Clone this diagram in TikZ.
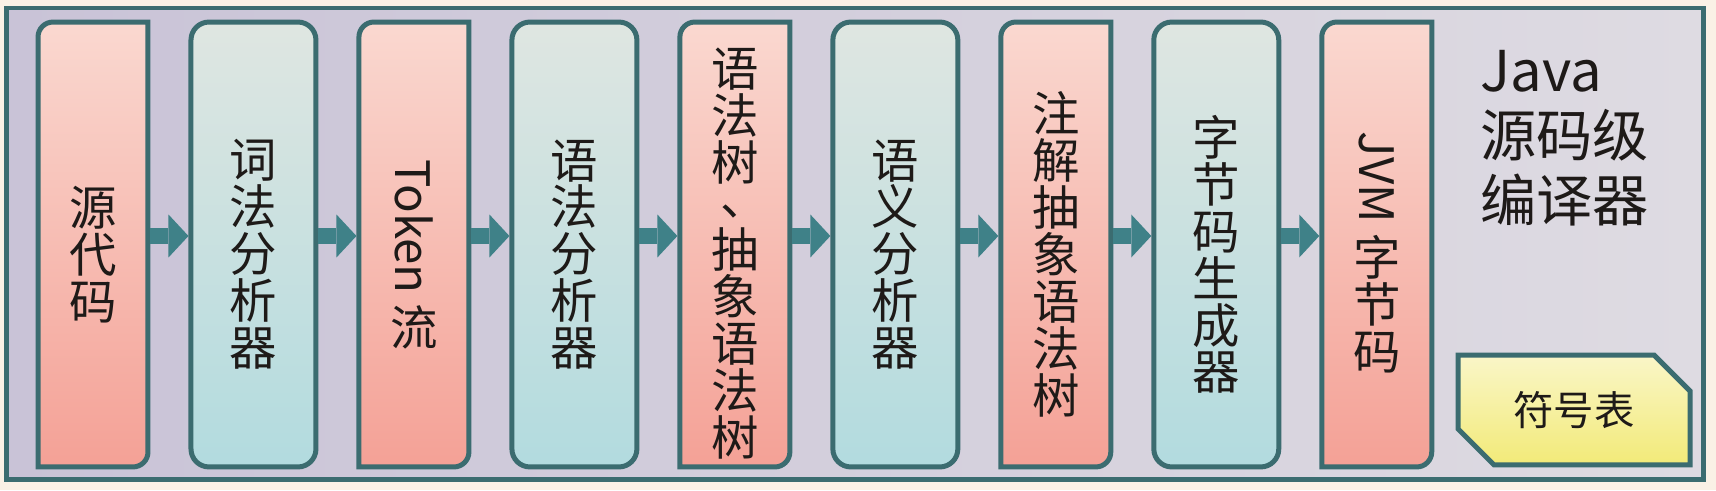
\documentclass[tikz,border=0pt]{standalone}
\usepackage{fontspec}
\newfontfamily\cjk{Noto Sans CJK SC}
\usetikzlibrary{calc,positioning,arrows.meta,shapes.misc}

\definecolor{pagecream}{HTML}{FAF1E6}
\definecolor{frameline}{HTML}{3B6C70}
\definecolor{frameleft}{HTML}{C9C3D7}
\definecolor{frameright}{HTML}{DEDBE2}
\definecolor{pinktop}{HTML}{FAD8D0}
\definecolor{pinkbot}{HTML}{F4A196}
\definecolor{tealtop}{HTML}{DFE6E1}
\definecolor{tealbot}{HTML}{B2DBDF}
\definecolor{yellowtop}{HTML}{FAF6C8}
\definecolor{yellowbot}{HTML}{F2EA78}
\definecolor{arrowteal}{HTML}{3F8188}
\definecolor{inkdark}{HTML}{1E1A18}

\newcommand{\stagefont}{\cjk\fontsize{27}{26.7}\selectfont}

\tikzset{
  stagebox/.style={minimum height=8.9cm, inner sep=0pt, outer sep=0pt},
  pinkbox/.style={stagebox, minimum width=2.2cm},
  tealbox/.style={stagebox, minimum width=2.5cm},
  pinkpaint/.style={draw=frameline, line width=0.1cm, top color=pinktop, bottom color=pinkbot},
  tealpaint/.style={draw=frameline, line width=0.1cm, top color=tealtop, bottom color=tealbot, rounded corners=0.36cm},
  stagetext/.style={font=\stagefont, align=center, inner sep=0pt, text=inkdark},
  stagearrow/.style={draw=arrowteal, line width=0.33cm,
    -{Triangle[length=0.4cm, width=0.86cm, line width=0pt]},
    shorten <=0.05cm, shorten >=0.05cm},
  symbox/.style={chamfered rectangle, chamfered rectangle corners={north east, south west},
    chamfered rectangle xsep=0.34cm, chamfered rectangle ysep=0.38cm,
    minimum width=4.64cm, minimum height=2.2cm, inner sep=0pt,
    draw=frameline, line width=0.1cm, top color=yellowtop, bottom color=yellowbot,
    font=\cjk\fontsize{23}{26}\selectfont, text=inkdark}
}

\begin{document}
\begin{tikzpicture}[x=0.02cm, y=0.02cm, node distance=0.86cm]
    \useasboundingbox (0,0) rectangle (1716,490);
    \fill[pagecream] (0,0) rectangle (1716,490);

    % Outer frame
    \shadedraw[draw=frameline, line width=0.09cm, left color=frameleft, right color=frameright]
        (6.5,10.5) rectangle (1703.5,482);

    % Stage boxes
    \node[pinkbox] (s1) at (93,245.5) {};
    \node[tealbox, right=of s1] (s2) {};
    \node[pinkbox, right=of s2] (s3) {};
    \node[tealbox, right=of s3] (s4) {};
    \node[pinkbox, right=of s4] (s5) {};
    \node[tealbox, right=of s5] (s6) {};
    \node[pinkbox, right=of s6] (s7) {};
    \node[tealbox, right=of s7] (s8) {};
    \node[pinkbox, right=of s8] (s9) {};

    \foreach \i in {1,3,5,7,9}{
        \shadedraw[pinkpaint] (s\i.north east) -- ([xshift=0.3cm]s\i.north west)
            arc[start angle=90, end angle=180, radius=0.3cm] -- (s\i.south west)
            -- ([xshift=-0.3cm]s\i.south east)
            arc[start angle=270, end angle=360, radius=0.3cm] -- cycle;
    }
    \foreach \i in {2,4,6,8}
        \shadedraw[tealpaint] (s\i.south west) rectangle (s\i.north east);

    % Stage labels
    \node[stagetext] (t1) at ($(s1)+(0,-10)$) {源\\代\\码};
    \node[stagetext] (t2) at ($(s2)+(0,-10)$) {词\\法\\分\\析\\器};
    \node[stagetext] (t3) at ($(s3)+(0,-10)$) {\rotatebox{-90}{Token }\\流};
    \node[stagetext] (t4) at ($(s4)+(0,-10)$) {语\\法\\分\\析\\器};
    \node[stagetext] (t5) at ($(s5)+(0,-9)$) {语\\法\\树\\[-6.7pt]\hspace*{0.4em}、\\[3.3pt]抽\\象\\语\\法\\树};
    \node[stagetext] (t6) at ($(s6)+(0,-10)$) {语\\义\\分\\析\\器};
    \node[stagetext] (t7) at ($(s7)+(0,-10)$) {注\\解\\抽\\象\\语\\法\\树};
    \node[stagetext] (t8) at ($(s8)+(0,-10)$) {字\\节\\码\\生\\成\\器};
    \node[stagetext] (t9) at ($(s9)+(0,-8)$) {\rotatebox{-90}{JVM }\\字\\节\\码};

    % Arrows between stages
    \foreach \i [evaluate=\i as \j using int(\i+1)] in {1,...,8}
        \draw[stagearrow] ([yshift=0.17cm]s\i.east) -- ([yshift=0.17cm]s\j.west);

    % Symbol table and title
    \node[symbox] (symtab) at (1574,80) {符号表};
    \node[anchor=west, align=left, inner sep=0pt, font=\cjk\fontsize{32}{37}\selectfont,
        text=inkdark] (title) at (1480,352) {Java\\源码级\\编译器};
\end{tikzpicture}
\end{document}
